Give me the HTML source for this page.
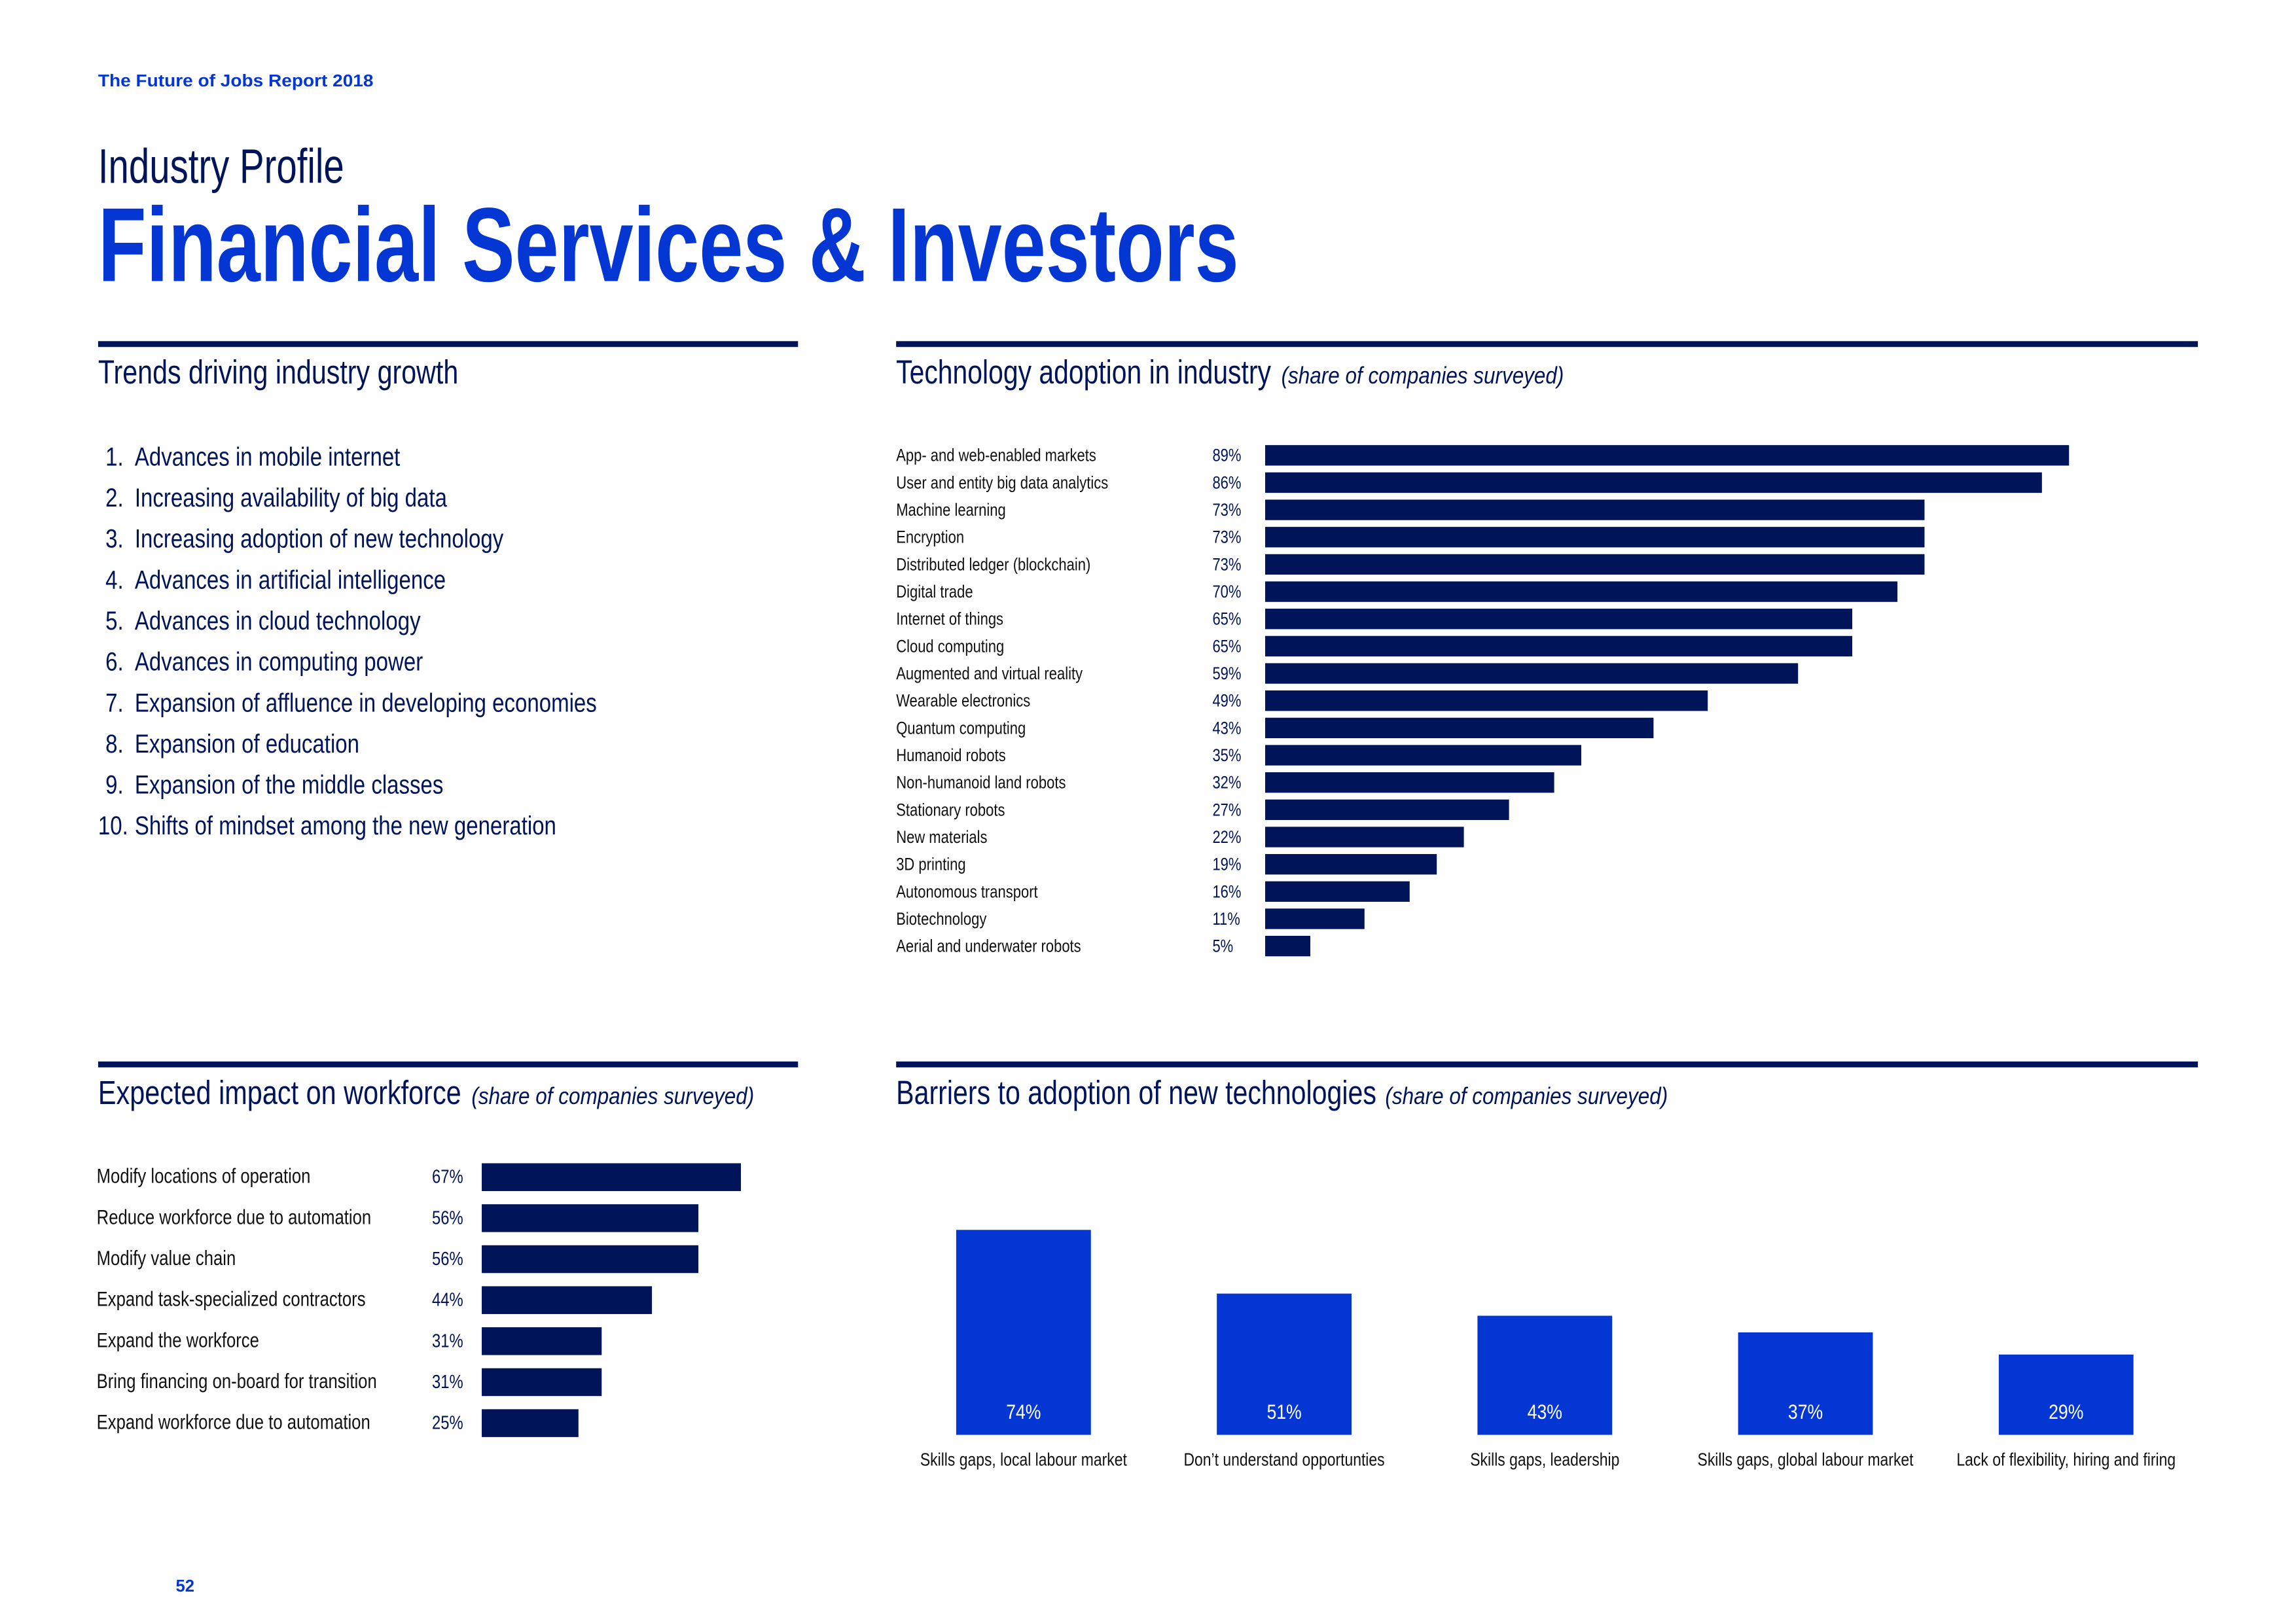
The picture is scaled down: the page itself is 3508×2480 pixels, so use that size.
<!DOCTYPE html>
<html><head><meta charset="utf-8"><style>
html,body{margin:0;padding:0;background:#fff;}
svg{display:block;}
text{font-family:"Liberation Sans",sans-serif;}
</style></head><body>
<svg id="page" xmlns="http://www.w3.org/2000/svg" width="3508" height="2480" viewBox="0 0 1568 1108.5" preserveAspectRatio="none">
<rect width="1568" height="1109" fill="#fff"/>
<text x="67" y="59" font-size="11.5" font-weight="bold" fill="#0336d3" textLength="188" lengthAdjust="spacingAndGlyphs">The Future of Jobs Report 2018</text>
<text x="67" y="125" font-size="33" fill="#00145a" textLength="168" lengthAdjust="spacingAndGlyphs">Industry Profile</text>
<text x="67" y="192" font-size="72" font-weight="bold" fill="#0336d3" textLength="779" lengthAdjust="spacingAndGlyphs">Financial Services &amp; Investors</text>
<rect x="67" y="233" width="478" height="4" fill="#00145a"/>
<rect x="612" y="233" width="889" height="4" fill="#00145a"/>
<rect x="67" y="725" width="478" height="4" fill="#00145a"/>
<rect x="612" y="725" width="889" height="4" fill="#00145a"/>
<text x="67" y="262" font-size="23" fill="#00145a" textLength="246" lengthAdjust="spacingAndGlyphs">Trends driving industry growth</text>
<text x="612" y="262" font-size="23" fill="#00145a" textLength="256" lengthAdjust="spacingAndGlyphs">Technology adoption in industry</text>
<text x="875" y="262" font-size="16" font-style="italic" fill="#00145a" textLength="193" lengthAdjust="spacingAndGlyphs">(share of companies surveyed)</text>
<text x="67" y="754" font-size="23" fill="#00145a" textLength="248" lengthAdjust="spacingAndGlyphs">Expected impact on workforce</text>
<text x="322" y="754" font-size="16" font-style="italic" fill="#00145a" textLength="193" lengthAdjust="spacingAndGlyphs">(share of companies surveyed)</text>
<text x="612" y="754" font-size="23" fill="#00145a" textLength="328" lengthAdjust="spacingAndGlyphs">Barriers to adoption of new technologies</text>
<text x="946" y="754" font-size="16" font-style="italic" fill="#00145a" textLength="193" lengthAdjust="spacingAndGlyphs">(share of companies surveyed)</text>
<text x="120" y="1087" font-size="11.5" font-weight="bold" fill="#0336d3">52</text>
<g id="trends"></g><g id="tech"></g><g id="workforce"></g><g id="barriers"></g>
</svg>
<script>
const trends = ["Advances in mobile internet","Increasing availability of big data","Increasing adoption of new technology","Advances in artificial intelligence","Advances in cloud technology","Advances in computing power","Expansion of affluence in developing economies","Expansion of education","Expansion of the middle classes","Shifts of mindset among the new generation"];
const techCategories = ["App- and web-enabled markets","User and entity big data analytics","Machine learning","Encryption","Distributed ledger (blockchain)","Digital trade","Internet of things","Cloud computing","Augmented and virtual reality","Wearable electronics","Quantum computing","Humanoid robots","Non-humanoid land robots","Stationary robots","New materials","3D printing","Autonomous transport","Biotechnology","Aerial and underwater robots"];
const techValues = [89,86,73,73,73,70,65,65,59,49,43,35,32,27,22,19,16,11,5];
const workforceCategories = ["Modify locations of operation","Reduce workforce due to automation","Modify value chain","Expand task-specialized contractors","Expand the workforce","Bring financing on-board for transition","Expand workforce due to automation"];
const workforceValues = [67,56,56,44,31,31,25];
const barrierCategories = ["Skills gaps, local labour market","Don\u2019t understand opportunties","Skills gaps, leadership","Skills gaps, global labour market","Lack of flexibility, hiring and firing"];
const barrierValues = [74,51,43,37,29];

const NS = "http://www.w3.org/2000/svg";
function mk(tag, parent, attrs){ const e=document.createElementNS(NS,tag); for(const k in attrs) e.setAttribute(k,attrs[k]); parent.appendChild(e); return e; }
function txt(parent, x, y, s, size, fill, sx, anchor){
  const t = mk('text', parent, {transform:`translate(${x},${y}) scale(${sx},1)`, 'font-size':size, fill:fill, 'text-anchor':anchor||'start'});
  t.textContent = s; return t;
}

const gT = document.getElementById('trends');
trends.forEach((s,i)=>{
  const y = 318 + i*28;
  const n = txt(gT, i===9?67:72, y, (i+1)+'.', 18, '#00145a', 0.82);
  
  
  const t = txt(gT, 92, y, s, 18, '#00145a', 0.82);
  
  
});

const gTe = document.getElementById('tech');
const techX = v => 864 + v*(549/89);
const techY = i => 311 + i*18.62;
techCategories.forEach((c,i)=>{
  const y = techY(i);
  const l = txt(gTe, 612, y+4, c, 12, '#111', 0.82);
  
  
  const p = txt(gTe, 828, y+4, techValues[i]+'%', 12, '#00145a', 0.82);
  
  
  const b = mk('rect', gTe, {x:techX(0), y:y-7, width:techX(techValues[i])-techX(0), height:14, fill:'#00145a'});
  
  
});

const gW = document.getElementById('workforce');
const wX = v => 329 + v*(177/67);
const wY = i => 804 + i*28;
workforceCategories.forEach((c,i)=>{
  const y = wY(i);
  const l = txt(gW, 66, y+4, c, 14, '#111', 0.82);
  
  
  const p = txt(gW, 295, y+4, workforceValues[i]+'%', 13, '#00145a', 0.82);
  
  
  const b = mk('rect', gW, {x:wX(0), y:y-9.5, width:wX(workforceValues[i])-wX(0), height:19, fill:'#00145a'});
  
  
});

const gB = document.getElementById('barriers');
const bBase = 980;
const bY = v => bBase - v*(140/74);
const bCx = i => 699 + i*178;
barrierCategories.forEach((c,i)=>{
  const cx = bCx(i), v = barrierValues[i];
  const b = mk('rect', gB, {x:cx-46, y:bY(v), width:92, height:bBase-bY(v), fill:'#0336d3'});
  
  
  const p = txt(gB, cx, 969, v+'%', 14, '#fff', 0.85, 'middle');
  
  
  const l = txt(gB, cx, 1001, c, 12.5, '#111', 0.82, 'middle');
  
  
});
</script>
</body></html>
